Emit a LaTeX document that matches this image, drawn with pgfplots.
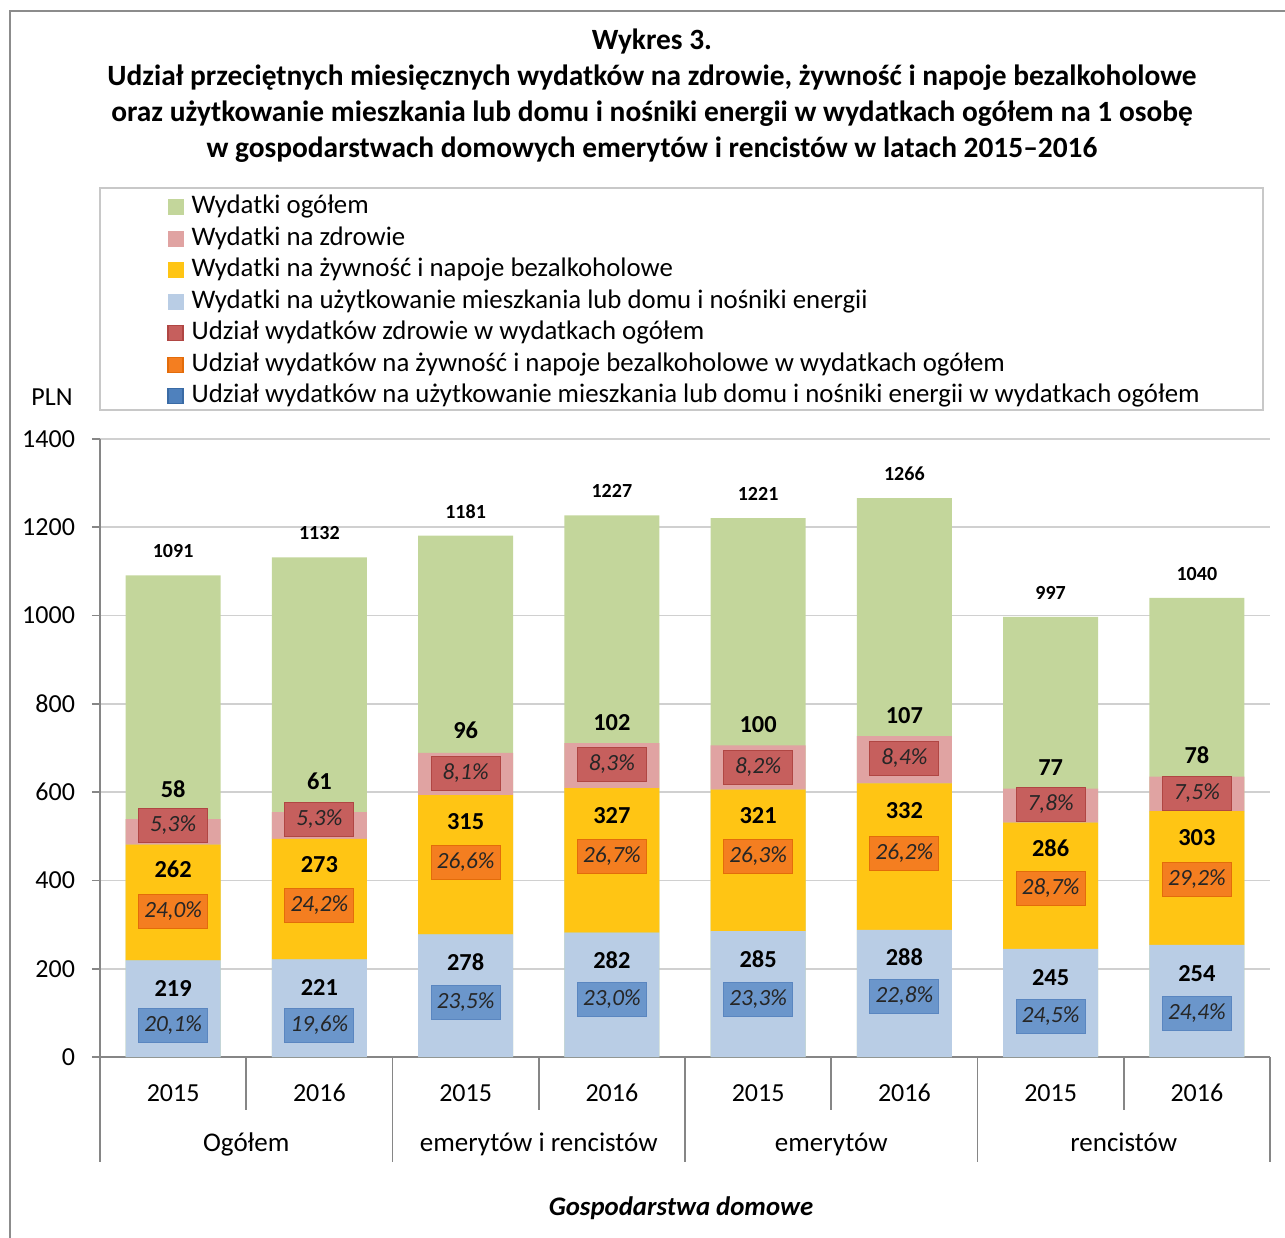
\documentclass[border=0pt]{standalone}
\usepackage{pgfplots}
\pgfplotsset{compat=1.18}
\usepackage{pgfplotstable}
\usepackage{fontspec}
\setmainfont{Carlito}
\definecolor{cTot}{HTML}{C3D69B}
\definecolor{cZ}{HTML}{E0A3A2}
\definecolor{cF}{HTML}{FFC514}
\definecolor{cH}{HTML}{B9CDE5}
\definecolor{cZb}{HTML}{C65F5D}
\definecolor{cZbd}{HTML}{B04643}
\definecolor{cFb}{HTML}{F47E20}
\definecolor{cFbd}{HTML}{E36C0A}
\definecolor{cHb}{HTML}{6B96CB}
\definecolor{cHbd}{HTML}{5A86C0}
\definecolor{cHl}{HTML}{4F81BD}
\definecolor{cHld}{HTML}{3A6BA5}
\definecolor{axisgray}{HTML}{868686}
\definecolor{gridgray}{HTML}{D0D0D0}
\definecolor{framegray}{HTML}{8C8C8C}
\definecolor{legendgray}{HTML}{C8C8C8}

\pgfplotstableread{
x H F Z T Hp Fp Zp yHv yHp yFv yFp yZv yZp
0 219 262 58 1091 20.1 24.0 5.3 155.5 72.0 425.0 330.0 606.0 525.0
1 221 273 61 1132 19.6 24.2 5.3 158.0 72.0 436.5 343.5 624.0 538.5
2 278 315 96 1181 23.5 26.6 8.1 214.5 124.0 533.5 441.0 740.0 642.5
3 282 327 102 1227 23.0 26.7 8.3 219.0 130.5 547.5 454.5 758.0 663.0
4 285 321 100 1221 23.3 26.3 8.2 221.0 130.5 547.5 454.5 753.5 656.0
5 288 332 107 1266 22.8 26.2 8.4 225.5 137.5 558.5 461.5 774.0 676.5
6 245 286 77 997 24.5 28.7 7.8 180.5 92.0 472.5 382.0 656.0 572.5
7 254 303 78 1040 24.4 29.2 7.5 189.5 99.0 497.5 402.5 683.5 597.5
}\data

\tikzset{grp/.style={font=\fontsize{13.5}{15}\selectfont, text height=9.5pt, text depth=3pt}}

\pgfplotsset{
  /pgf/number format/assume math mode=true,
  /pgf/number format/1000 sep={},
  geom/.style={at={(50pt,-528.5pt)}, anchor=south west, scale only axis,
    width=585pt, height=309pt, xmin=-0.5, xmax=7.5, ymin=0, ymax=1400, clip=false},
  lbl/.style={only marks, mark=*, mark size=0pt,
    mark options={draw=none, fill=none},
    point meta=explicit, forget plot},
  vlbl/.style={lbl,
    nodes near coords={\pgfmathprintnumber[fixed,precision=0]{\pgfplotspointmeta}},
    every node near coord/.style={anchor=center, text=black, text opacity=1,
      font=\fontsize{12.2}{14}\selectfont\bfseries}},
  plbl/.style 2 args={lbl,
    nodes near coords={\pgfmathprintnumber[fixed,fixed zerofill,precision=1,use comma]{\pgfplotspointmeta}\%},
    every node near coord/.style={anchor=center, text=black!85, text opacity=1,
      fill=#1, draw=#2, fill opacity=1, draw opacity=1,
      line width=0.6pt, inner sep=0pt, minimum width=34.5pt, minimum height=17pt,
      font=\fontsize{11.6}{13}\selectfont\itshape}},
}

\begin{document}
\begin{tikzpicture}
\useasboundingbox (0,0) rectangle (642.5pt,-618.5pt);
\draw[framegray, line width=1pt] (4.75pt,-620pt) -- (4.75pt,-5.5pt) -- (645pt,-5.5pt);

\node[align=center, font=\fontsize{14.7}{18}\selectfont\bfseries] at (326pt,-47.75pt)
  {Wykres 3.\\Udział przeciętnych miesięcznych wydatków na zdrowie, żywność i napoje bezalkoholowe\\oraz użytkowanie mieszkania lub domu i nośniki energii w wydatkach ogółem na 1 osobę\\w gospodarstwach domowych emerytów i rencistów w latach 2015–2016};

\draw[legendgray, line width=0.8pt] (50pt,-94pt) rectangle (631.5pt,-205pt);
\node[font=\fontsize{13}{15}\selectfont] at (26pt,-198.5pt) {PLN};
\node[font=\fontsize{13.4}{15}\selectfont\bfseries\itshape] at (340.5pt,-604pt) {Gospodarstwa domowe};

% axis 1: grid, axes, totals
\begin{axis}[geom,
  axis lines*=left,
  axis line style={axisgray, line width=0.8pt},
  ytick={0,200,...,1400},
  xtick={0,...,7},
  xticklabels={2015,2016,2015,2016,2015,2016,2015,2016},
  x tick style={draw=none},
  y tick style={axisgray, line width=0.8pt},
  tick align=outside, major tick length=4pt,
  ymajorgrids, grid style={gridgray, line width=0.8pt},
  ticklabel style={font=\fontsize{13}{15}\selectfont},
  yticklabel style={xshift=-5pt},
  xticklabel style={anchor=center, yshift=-14pt},
  ybar, bar width=47.5pt, bar shift=0pt,
]
\addplot[fill=cTot, draw=none, point meta=y,
  nodes near coords={\pgfmathprintnumber[fixed,precision=0]{\pgfplotspointmeta}},
  every node near coord/.append style={anchor=center, yshift=12pt, text=black,
    font=\fontsize{10}{12}\selectfont\bfseries}]
  table[x=x, y=T] {\data};
\pgfplotsinvokeforeach{0.5,2.5,4.5,6.5}{
  \draw[axisgray, line width=0.8pt] (axis cs:#1,0) -- ++(0pt,-26.5pt);
}
\pgfplotsinvokeforeach{-0.5,1.5,3.5,5.5,7.5}{
  \draw[axisgray, line width=0.8pt] (axis cs:#1,0) -- ++(0pt,-52.5pt);
}
\node[grp] at ([yshift=-44pt]axis cs:0.5,0) {Ogółem};
\node[grp] at ([yshift=-44pt]axis cs:2.5,0) {emerytów i rencistów};
\node[grp] at ([yshift=-44pt]axis cs:4.5,0) {emerytów};
\node[grp] at ([yshift=-44pt]axis cs:6.5,0) {rencistów};
\end{axis}

% axis 2: stacked components
\begin{axis}[geom, hide axis, ybar stacked, bar width=47.5pt]
\addplot[fill=cH, draw=none] table[x=x, y=H] {\data};
\addplot[fill=cF, draw=none] table[x=x, y=F] {\data};
\addplot[fill=cZ, draw=none] table[x=x, y=Z] {\data};
\end{axis}

% axis 3: labels and legend
\begin{axis}[geom, hide axis,
  legend style={at={(axis description cs:0.0573,1.396)}, anchor=north west,
    draw=none, fill=none, inner sep=0pt, row sep=3.25pt,
    font=\fontsize{13.4}{15}\selectfont,
    nodes={inner sep=0pt, text height=9.5pt, text depth=3pt},
    /tikz/every odd column/.append style={column sep=4pt}},
  legend cell align=left,
]
\addlegendimage{legend image code/.code={\fill[cTot] (0pt,-3.75pt) rectangle (7.5pt,3.75pt);}}
\addlegendentry{Wydatki ogółem}
\addlegendimage{legend image code/.code={\fill[cZ] (0pt,-3.75pt) rectangle (7.5pt,3.75pt);}}
\addlegendentry{Wydatki na zdrowie}
\addlegendimage{legend image code/.code={\fill[cF] (0pt,-3.75pt) rectangle (7.5pt,3.75pt);}}
\addlegendentry{Wydatki na żywność i napoje bezalkoholowe}
\addlegendimage{legend image code/.code={\fill[cH] (0pt,-3.75pt) rectangle (7.5pt,3.75pt);}}
\addlegendentry{Wydatki na użytkowanie mieszkania lub domu i nośniki energii}
\addlegendimage{legend image code/.code={\filldraw[fill=cZb, draw=cZbd, line width=0.6pt] (0pt,-3.75pt) rectangle (7.5pt,3.75pt);}}
\addlegendentry{Udział wydatków zdrowie w wydatkach ogółem}
\addlegendimage{legend image code/.code={\filldraw[fill=cFb, draw=cFbd, line width=0.6pt] (0pt,-3.75pt) rectangle (7.5pt,3.75pt);}}
\addlegendentry{Udział wydatków na żywność i napoje bezalkoholowe w wydatkach ogółem}
\addlegendimage{legend image code/.code={\filldraw[fill=cHl, draw=cHld, line width=0.6pt] (0pt,-3.75pt) rectangle (7.5pt,3.75pt);}}
\addlegendentry{Udział wydatków na użytkowanie mieszkania lub domu i nośniki energii w wydatkach ogółem}

\addplot[vlbl] table[x=x, y=yHv, meta=H] {\data};
\addplot[plbl={cHb}{cHbd}] table[x=x, y=yHp, meta=Hp] {\data};
\addplot[vlbl] table[x=x, y=yFv, meta=F] {\data};
\addplot[plbl={cFb}{cFbd}] table[x=x, y=yFp, meta=Fp] {\data};
\addplot[vlbl] table[x=x, y=yZv, meta=Z] {\data};
\addplot[plbl={cZb}{cZbd}] table[x=x, y=yZp, meta=Zp] {\data};
\end{axis}
\end{tikzpicture}
\end{document}
